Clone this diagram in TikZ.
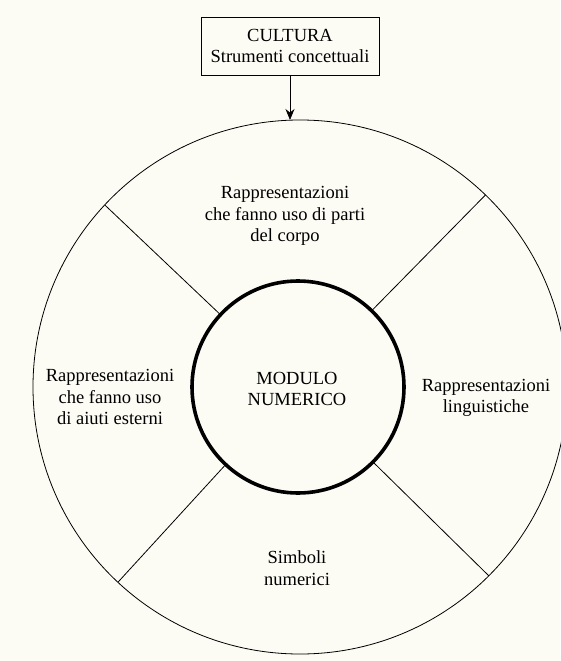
\documentclass[tikz,border=0pt]{standalone}
\usepackage{fontspec}
\setmainfont{Liberation Serif}
\usetikzlibrary{arrows.meta}
\definecolor{paper}{HTML}{FDFCF4}
\begin{document}
\begin{tikzpicture}[x=1pt,y=-1pt,
  lbl/.style={align=center, font=\fontsize{18.5}{21.5}\selectfont, inner sep=0pt},
  ring/.style={circle, draw, inner sep=0pt, outer sep=0pt},
  thinline/.style={line width=0.8pt}]
\fill[paper] (0,0) rectangle (560,661);
\useasboundingbox (0,0) rectangle (560,661);
\node[ring, thinline, minimum size=534pt] (outer) at (300,387) {};
\node[ring, line width=3.6pt, minimum size=212pt] (inner) at (298,387) {};
\draw[thinline] (outer.137) -- (inner.137);
\draw[thinline] (outer.46) -- (inner.46);
\draw[thinline] (outer.227) -- (inner.227);
\draw[thinline] (outer.-45) -- (inner.-45);
\node[draw, thinline, minimum width=178pt, minimum height=58pt, lbl] (cult) at (290,46)
  {CULTURA\\Strumenti concettuali};
\draw[thinline, -{Stealth[length=11pt,width=9pt]}] (cult.south) -- (cult.south |- outer.north);
\node[lbl] (top) at (285,216) {Rappresentazioni\\che fanno uso di parti\\del corpo};
\node[lbl] (left) at (110,397) {Rappresentazioni\\che fanno uso\\di aiuti esterni};
\node[lbl] (right) at (486,398) {Rappresentazioni\\linguistiche};
\node[lbl] (bottom) at (297,568) {Simboli\\numerici};
\node[lbl] (mod) at (297,389) {MODULO\\NUMERICO};
\end{tikzpicture}
\end{document}
